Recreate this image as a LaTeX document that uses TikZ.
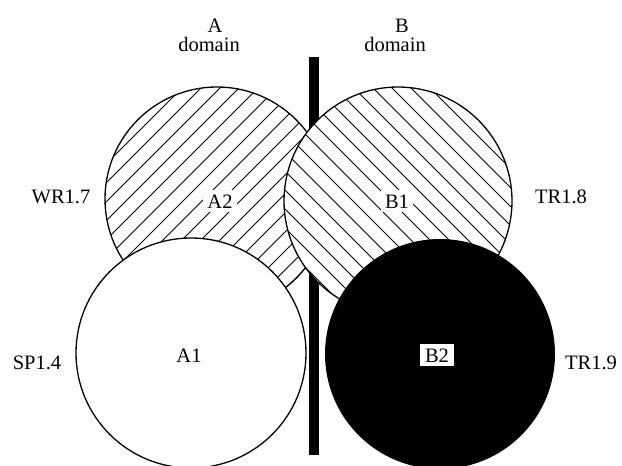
\documentclass[tikz,border=0pt]{standalone}
\usepackage{fontspec}
\setmainfont{Liberation Serif}
\begin{document}
\begin{tikzpicture}[x=1pt,y=-1pt,
  rim/.style={draw=black,line width=1.3pt},
  hatchline/.style={line width=0.9pt},
  lbl/.style={anchor=base,inner sep=0pt,font=\fontsize{20.5}{19}\selectfont},
  boxed/.style={lbl,fill=white,inner sep=4pt}]
\useasboundingbox (0,0) rectangle (622,466);
\fill[white] (0,0) rectangle (622,466);

% dividing wall between the two domains
\fill[black] (309,57) rectangle (319,455);

% A2: hatched with "/" lines
\coordinate (cA2) at (217,199);
\fill[white] (cA2) circle (112);
\begin{scope}
  \clip (cA2) circle (112);
  \foreach \c in {175,194,...,680}
    \draw[hatchline] (\c-500,500) -- (\c+100,-100);
\end{scope}
\draw[rim] (cA2) circle (112);

% B1: hatched with "\" lines
\coordinate (cB1) at (398,201);
\fill[white] (cB1) circle (114);
\begin{scope}
  \clip (cB1) circle (114);
  \foreach \d in {-38,-19,...,460}
    \draw[hatchline] (\d-100,-100) -- (\d+500,500);
\end{scope}
\draw[rim] (cB1) circle (114);

% A1: plain white
\coordinate (cA1) at (191,353);
\draw[rim,fill=white] (cA1) circle (115);

% B2: solid black
\coordinate (cB2) at (440,354);
\fill[black] (cB2) circle (115);

% circle labels
\node[boxed] (tA2) at (220,208) {A2};
\node[boxed] (tB1) at (397,208) {B1};
\node[lbl] (tA1) at (189,362) {A1};
\node[boxed,inner xsep=5pt,inner ysep=4pt] (tB2) at (437,362) {B2};

% side labels
\node[lbl] (wr) at (61,203) {WR1.7};
\node[lbl] (tr8) at (561,203) {TR1.8};
\node[lbl] (sp) at (37,369) {SP1.4};
\node[lbl] (tr9) at (591,369) {TR1.9};

% domain headings
\node[lbl] (hA) at (215,32) {A};
\node[lbl] (hAd) at (209,51) {domain};
\node[lbl] (hB) at (402,32) {B};
\node[lbl] (hBd) at (395,51) {domain};
\end{tikzpicture}
\end{document}
